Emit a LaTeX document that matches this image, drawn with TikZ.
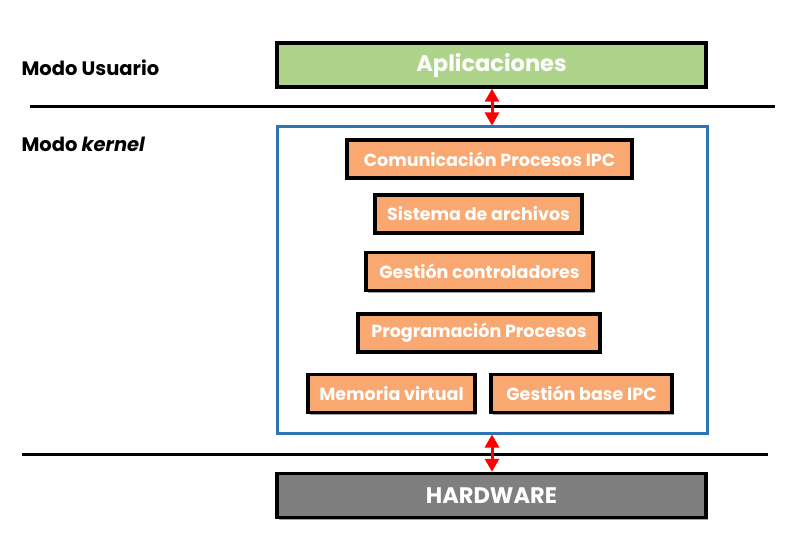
\documentclass[tikz,border=0pt]{standalone}
\usepackage{fontspec}
\setmainfont{Poppins}
\usetikzlibrary{arrows.meta,shadows}
\definecolor{appgreen}{HTML}{AED48C}
\definecolor{kernorange}{HTML}{F8A870}
\definecolor{kernblue}{HTML}{2E75B6}
\definecolor{hwgray}{HTML}{7F7F7F}
\tikzset{%
  >={Triangle[width=14pt,length=13pt]},
            base/.style = {rectangle, draw=black, line width=3.5pt,
                           text=white, font=\bfseries, inner sep=0pt,
                           drop shadow={fill=black, opacity=.35, shadow xshift=2pt, shadow yshift=-2pt}},
  layer/.style = {base, minimum width=429pt, minimum height=44pt, font=\fontsize{22.5}{26}\selectfont\bfseries},
  kbox/.style  = {base, minimum height=38pt, font=\fontsize{17.5}{20}\selectfont\bfseries, fill=kernorange},
  modo/.style  = {anchor=west, font=\fontsize{19.5}{22}\selectfont\bfseries},
  sep/.style   = {line width=3pt},
  link/.style  = {<->, red, line width=3pt},
}
\begin{document}
\begin{tikzpicture}[x=1pt, y=-1pt]
  \useasboundingbox (0,0) rectangle (792,556);

  \node (onApps)   [layer, fill=appgreen] at (491.5,65)  {Aplicaciones};
  \node (onKernel) [base, fill=white, draw=kernblue, line width=3pt, minimum width=430pt, minimum height=306pt] at (492,280) {};
  \node (onHW)     [layer, fill=hwgray]   at (491.5,495.5) {HARDWARE};

  \node (onIPC)    [kbox, minimum width=285pt] at (489.5,159) {Comunicación Procesos IPC};
  \node (onFS)     [kbox, minimum width=207pt] at (478.5,214) {Sistema de archivos};
  \node (onDrv)    [kbox, minimum width=227pt] at (479.5,271.5) {Gestión controladores};
  \node (onSched)  [kbox, minimum width=242pt] at (479,333) {Programación Procesos};
  \node (onVM)     [kbox, minimum width=167pt] at (391.5,393.5) {Memoria virtual};
  \node (onBase)   [kbox, minimum width=181pt] at (581.5,393.5) {Gestión base IPC};

  \node (on_user)   [modo] at (18,68)  {Modo Usuario};
  \node (on_kernel) [modo] at (18,144) {Modo \textit{kernel}};

  \coordinate (sepUL) at (30,107);  \coordinate (sepUR) at (775,107);
  \coordinate (sepDL) at (22,454);  \coordinate (sepDR) at (768,454);
  \draw[sep] (sepUL) -- (sepUR);
  \draw[sep] (sepDL) -- (sepDR);

  \draw[link] (onApps.south -| onKernel) -- (onKernel.north);
  \draw[link] (onKernel.south) -- (onHW.north -| onKernel);
\end{tikzpicture}
\end{document}
